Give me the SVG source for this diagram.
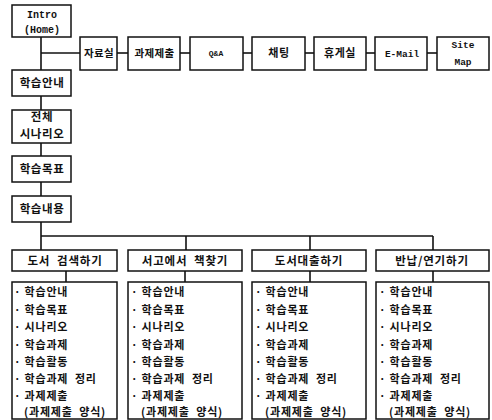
<svg xmlns="http://www.w3.org/2000/svg" width="492" height="420" viewBox="0 0 492 420">
<style>
rect.b{fill:#fff;stroke:#111;stroke-width:1.5}
.k{font-family:"Noto Sans CJK KR","Noto Sans",sans-serif;font-weight:700;font-size:11px;fill:#111;letter-spacing:0.8px}
.kc{font-family:"Noto Sans CJK KR","Noto Sans",sans-serif;font-weight:700;font-size:11.5px;fill:#111;text-anchor:middle;letter-spacing:0.8px}
.ks{font-family:"Noto Sans CJK KR","Noto Sans",sans-serif;font-weight:700;font-size:11.5px;fill:#111;text-anchor:middle;letter-spacing:0.6px}
.m{font-family:"Liberation Mono","Noto Sans CJK KR",monospace;font-weight:700;font-size:10px;fill:#111;text-anchor:middle}
.c line{stroke:#111;stroke-width:1.6}
</style>
<rect width="492" height="420" fill="#fff"/>
<g class="c" id="connectors">
<line x1="41" y1="37" x2="41" y2="70"/>
<line x1="41" y1="53" x2="80" y2="53"/>
<line x1="117" y1="53" x2="128" y2="53"/>
<line x1="180" y1="53" x2="190" y2="53"/>
<line x1="243" y1="53" x2="252" y2="53"/>
<line x1="305" y1="53" x2="314" y2="53"/>
<line x1="366" y1="53" x2="375" y2="53"/>
<line x1="427" y1="53" x2="437" y2="53"/>
<line x1="41" y1="96" x2="41" y2="110"/>
<line x1="41" y1="143" x2="41" y2="156"/>
<line x1="41" y1="182" x2="41" y2="196"/>
<line x1="41" y1="222" x2="41" y2="250"/>
<line x1="41" y1="236" x2="433" y2="236"/>
<line x1="186" y1="236" x2="186" y2="250"/>
<line x1="310" y1="236" x2="310" y2="250"/>
<line x1="433" y1="236" x2="433" y2="250"/>
<line x1="66" y1="271" x2="66" y2="282"/>
<line x1="185" y1="271" x2="185" y2="282"/>
<line x1="310" y1="271" x2="310" y2="282"/>
<line x1="433" y1="271" x2="433" y2="282"/>
</g>
<g id="intro"><rect class="b" x="12" y="5" width="59" height="32"/><text class="m" x="42" y="18">Intro</text><text class="m" x="42" y="33">(Home)</text></g>
<g id="jaryosil"><rect class="b" x="80" y="37" width="37" height="33"/><text class="ks" x="99" y="57" style="font-size:10.5px;letter-spacing:0.3px">자료실</text></g>
<g id="gwaje"><rect class="b" x="128" y="37" width="52" height="33"/><text class="ks" x="154.5" y="57" style="font-size:10.5px;letter-spacing:0.3px">과제제출</text></g>
<g id="qna"><rect class="b" x="190" y="37" width="53" height="33"/><text class="m" x="216" y="56" style="font-size:8px">Q&amp;A</text></g>
<g id="chat"><rect class="b" x="252" y="37" width="53" height="33"/><text class="ks" x="279" y="57" style="font-size:11px">채팅</text></g>
<g id="hyugesil"><rect class="b" x="314" y="37" width="52" height="33"/><text class="ks" x="340" y="57" style="font-size:11px">휴게실</text></g>
<g id="email"><rect class="b" x="375" y="37" width="52" height="33"/><text class="m" x="402" y="57" style="font-size:9.5px">E-Mail</text></g>
<g id="sitemap"><rect class="b" x="437" y="37" width="52" height="33"/><text class="m" x="463" y="48" style="font-size:9.5px">Site</text><text class="m" x="463" y="65" style="font-size:9.5px">Map</text></g>
<g id="annae"><rect class="b" x="12" y="70" width="59" height="26"/><text class="ks" x="42" y="87">학습안내</text></g>
<g id="scenario"><rect class="b" x="12" y="110" width="59" height="33"/><text class="ks" x="42" y="121">전체</text><text class="ks" x="42" y="138">시나리오</text></g>
<g id="mokpyo"><rect class="b" x="12" y="156" width="59" height="26"/><text class="ks" x="42" y="173">학습목표</text></g>
<g id="naeyong"><rect class="b" x="12" y="196" width="59" height="26"/><text class="ks" x="42" y="213">학습내용</text></g>
<g id="cat1"><rect class="b" x="12" y="250" width="105" height="21"/><text class="kc" x="65" y="265" xml:space="preserve">도서  검색하기</text></g>
<g id="cat2"><rect class="b" x="128" y="250" width="114" height="21"/><text class="kc" x="185" y="265" xml:space="preserve">서고에서  책찾기</text></g>
<g id="cat3"><rect class="b" x="252" y="250" width="114" height="21"/><text class="kc" x="309" y="265">도서대출하기</text></g>
<g id="cat4"><rect class="b" x="376" y="250" width="113" height="21"/><text class="kc" x="432" y="265">반납/연기하기</text></g>
<g id="list1"><rect class="b" x="12" y="282" width="105" height="137"/>
<text class="k" xml:space="preserve"><tspan x="14" y="296">· 학습안내</tspan><tspan x="14" y="313.5">· 학습목표</tspan><tspan x="14" y="331">· 시나리오</tspan><tspan x="14" y="348.5">· 학습과제</tspan><tspan x="14" y="366">· 학습활동</tspan><tspan x="14" y="383">· 학습과제  정리</tspan><tspan x="14" y="400">· 과제제출</tspan><tspan x="24" y="416">(과제제출  양식)</tspan></text></g>
<g id="list2"><rect class="b" x="128" y="282" width="114" height="137"/>
<text class="k" xml:space="preserve"><tspan x="131" y="296">· 학습안내</tspan><tspan x="131" y="313.5">· 학습목표</tspan><tspan x="131" y="331">· 시나리오</tspan><tspan x="131" y="348.5">· 학습과제</tspan><tspan x="131" y="366">· 학습활동</tspan><tspan x="131" y="383">· 학습과제  정리</tspan><tspan x="131" y="400">· 과제제출</tspan><tspan x="141" y="416">(과제제출  양식)</tspan></text></g>
<g id="list3"><rect class="b" x="252" y="282" width="114" height="137"/>
<text class="k" xml:space="preserve"><tspan x="255" y="296">· 학습안내</tspan><tspan x="255" y="313.5">· 학습목표</tspan><tspan x="255" y="331">· 시나리오</tspan><tspan x="255" y="348.5">· 학습과제</tspan><tspan x="255" y="366">· 학습활동</tspan><tspan x="255" y="383">· 학습과제  정리</tspan><tspan x="255" y="400">· 과제제출</tspan><tspan x="265" y="416">(과제제출  양식)</tspan></text></g>
<g id="list4"><rect class="b" x="376" y="282" width="113" height="137"/>
<text class="k" xml:space="preserve"><tspan x="379" y="296">· 학습안내</tspan><tspan x="379" y="313.5">· 학습목표</tspan><tspan x="379" y="331">· 시나리오</tspan><tspan x="379" y="348.5">· 학습과제</tspan><tspan x="379" y="366">· 학습활동</tspan><tspan x="379" y="383">· 학습과제  정리</tspan><tspan x="379" y="400">· 과제제출</tspan><tspan x="389" y="416">(과제제출  양식)</tspan></text></g>
</svg>
